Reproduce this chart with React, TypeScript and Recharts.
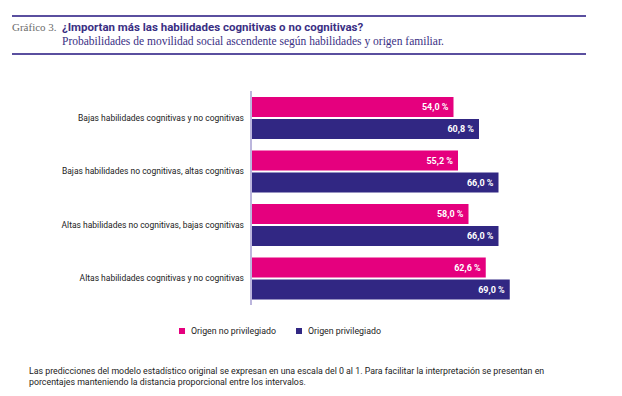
import React from 'react';
import { BarChart, Bar, XAxis, YAxis, LabelList } from 'recharts';

const categories = [
  'Bajas habilidades cognitivas y no cognitivas',
  'Bajas habilidades no cognitivas, altas cognitivas',
  'Altas habilidades no cognitivas, bajas cognitivas',
  'Altas habilidades cognitivas y no cognitivas',
];
const noPrivilegiado = [54.0, 55.2, 58.0, 62.6];
const privilegiado = [60.8, 66.0, 66.0, 69.0];

const seriesNames = ['Origen no privilegiado', 'Origen privilegiado'];
const colours = ['#e5007e', '#312783'];

const data = categories.map((label, i) => ({
  label,
  noPriv: noPrivilegiado[i],
  priv: privilegiado[i],
}));

const sans = 'Roboto, "Noto Sans", sans-serif';
const serif = '"Liberation Serif", "DejaVu Serif", serif';

const fmt = (v: any) => `${Number(v).toFixed(1).replace('.', ',')} %`;

function CategoryTick(props: any) {
  const { x, y, payload } = props;
  return (
    <text
      x={x + 1}
      y={y}
      dy="0.35em"
      textAnchor="end"
      fontFamily={sans}
      fontSize={8.5}
      fill="#222"
    >
      {payload.value}
    </text>
  );
}

function Header() {
  return (
    <div style={{ position: 'absolute', left: 12, top: 15, width: 574 }}>
      <div style={{ borderTop: '2px solid #5a4f9f' }} />
      <div style={{ position: 'relative', height: 36 }}>
        <span
          style={{
            position: 'absolute',
            left: 0,
            top: 4,
            fontFamily: serif,
            fontSize: 11,
            color: '#6b6b6b',
          }}
        >
          Gráfico 3.
        </span>
        <span
          style={{
            position: 'absolute',
            left: 50,
            top: 3,
            fontFamily: sans,
            fontWeight: 700,
            fontSize: 11.5,
            color: '#3a2f84',
          }}
        >
          ¿Importan más las habilidades cognitivas o no cognitivas?
        </span>
        <span
          style={{
            position: 'absolute',
            left: 50,
            top: 18,
            fontFamily: serif,
            fontSize: 11.5,
            color: '#3a2f84',
          }}
        >
          Probabilidades de movilidad social ascendente según habilidades y origen familiar.
        </span>
      </div>
      <div style={{ borderTop: '2px solid #5a4f9f' }} />
    </div>
  );
}

export default function App() {
  return (
    <div
      style={{
        position: 'absolute',
        left: 0,
        top: 0,
        width: 622,
        height: 396,
        background: '#fff',
        overflow: 'hidden',
      }}
    >
      <Header />
      <div style={{ position: 'absolute', left: 0, top: 0 }}>
        <BarChart
          width={622}
          height={320}
          data={data}
          layout="vertical"
          margin={{ top: 91, right: 71, bottom: 15, left: 0 }}
          barSize={20}
          barGap={2}
        >
          <XAxis type="number" domain={[0, 80]} hide />
          <YAxis
            type="category"
            dataKey="label"
            width={251}
            tickLine={false}
            axisLine={{ stroke: '#bcb6dd', strokeWidth: 2 }}
            tick={<CategoryTick />}
          />
          <Bar dataKey="noPriv" name={seriesNames[0]} fill={colours[0]} isAnimationActive={false}>
            <LabelList
              dataKey="noPriv"
              position="insideRight"
              formatter={fmt}
              style={{ fill: '#fff', fontFamily: sans, fontSize: 9, fontWeight: 700 }}
            />
          </Bar>
          <Bar dataKey="priv" name={seriesNames[1]} fill={colours[1]} isAnimationActive={false}>
            <LabelList
              dataKey="priv"
              position="insideRight"
              formatter={fmt}
              style={{ fill: '#fff', fontFamily: sans, fontSize: 9, fontWeight: 700 }}
            />
          </Bar>
        </BarChart>
      </div>
      <div
        style={{
          position: 'absolute',
          left: 179,
          top: 326,
          display: 'flex',
          alignItems: 'center',
          fontFamily: sans,
          fontSize: 8.8,
          color: '#222',
        }}
      >
        {seriesNames.map((name, i) => (
          <div key={name} style={{ display: 'flex', alignItems: 'center', marginRight: 20 }}>
            <span
              style={{ width: 6, height: 6, background: colours[i], display: 'inline-block', marginRight: 6 }}
            />
            <span>{name}</span>
          </div>
        ))}
      </div>
      <div
        style={{
          position: 'absolute',
          left: 29,
          top: 366,
          fontFamily: sans,
          fontSize: 8.8,
          lineHeight: '11px',
          color: '#222',
        }}
      >
        Las predicciones del modelo estadístico original se expresan en una escala del 0 al 1. Para facilitar la
        interpretación se presentan en
        <br />
        porcentajes manteniendo la distancia proporcional entre los intervalos.
      </div>
    </div>
  );
}
